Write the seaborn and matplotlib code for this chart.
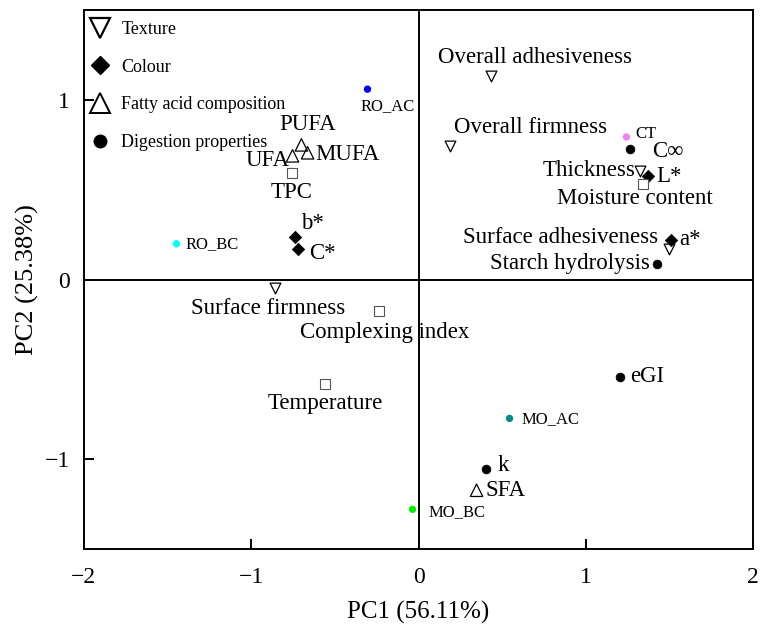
import matplotlib
matplotlib.use("Agg")
import matplotlib.pyplot as plt
from matplotlib.lines import Line2D
import seaborn as sns
import pandas as pd

sns.set_theme(style="white")
plt.rcParams['font.family'] = ['Liberation Serif', 'DejaVu Serif']
plt.rcParams['mathtext.fontset'] = 'stix'
plt.rcParams['text.color'] = 'black'

# ---------------- data ----------------
texture_names = ["Overall adhesiveness", "Overall firmness", "Thickness", "Surface adhesiveness", "Surface firmness"]
texture_pc1 = [0.436, 0.191, 1.327, 1.50, -0.855]
texture_pc2 = [1.133, 0.744, 0.606, 0.172, -0.044]

colour_names = ["b*", "C*", "L*", "a*"]
colour_pc1 = [-0.741, -0.723, 1.369, 1.512]
colour_pc2 = [0.239, 0.172, 0.578, 0.222]

fatty_names = ["PUFA", "MUFA", "UFA", "SFA"]
fatty_pc1 = [-0.70, -0.663, -0.753, 0.347]
fatty_pc2 = [0.75, 0.706, 0.689, -1.172]

digest_names = ["C∞", "Starch hydrolysis", "eGI", "k"]
digest_pc1 = [1.267, 1.423, 1.207, 0.406]
digest_pc2 = [0.728, 0.089, -0.544, -1.056]

other_names = ["TPC", "Moisture content", "Complexing index", "Temperature"]
other_pc1 = [-0.759, 1.339, -0.239, -0.556]
other_pc2 = [0.594, 0.533, -0.172, -0.578]

sample_names = ["RO_AC", "RO_BC", "CT", "MO_AC", "MO_BC"]
sample_pc1 = [-0.305, -1.447, 1.243, 0.544, -0.036]
sample_pc2 = [1.06, 0.20, 0.794, -0.772, -1.278]
sample_colors = ["#0000ff", "#00ffff", "#ee82ee", "#008b8b", "#00ee00"]

x_ticks = [-2, -1, 0, 1, 2]
y_ticks = [-1, 0, 1]
x_label = "PC1 (56.11%)"
y_label = "PC2 (25.38%)"
legend_labels = ["Texture", "Colour", "Fatty acid composition", "Digestion properties"]

# label placement (offset pixels, ha)
label_pos = {
    "Overall adhesiveness": (44, 19, "center"),
    "Overall firmness": (80, 18, "center"),
    "Thickness": (-5, 0, "right"),
    "Surface adhesiveness": (-11, 11, "right"),
    "Surface firmness": (-7, -21, "center"),
    "b*": (6, 13, "left"),
    "C*": (12, -5, "left"),
    "L*": (9, -1, "left"),
    "a*": (8, 0, "left"),
    "PUFA": (6, 20, "center"),
    "MUFA": (8, -2, "left"),
    "UFA": (-3, -5, "right"),
    "SFA": (9, 0, "left"),
    "C∞": (22, -3, "left"),
    "Starch hydrolysis": (-7, 0, "right"),
    "eGI": (10, 1, "left"),
    "k": (11, 4, "left"),
    "TPC": (0, -20, "center"),
    "Moisture content": (-8, -15, "center"),
    "Complexing index": (6, -22, "center"),
    "Temperature": (0, -20, "center"),
    "RO_AC": (-7, -17, "left"),
    "RO_BC": (9, 0, "left"),
    "CT": (9, 3, "left"),
    "MO_AC": (12, -1, "left"),
    "MO_BC": (16, -3, "left"),
}

fig = plt.figure(figsize=(7.63, 6.32), dpi=100)
ax = fig.add_axes([0.110, 0.131, 0.877, 0.853])

ax.axhline(0, color="black", lw=1.4, zorder=1)
ax.axvline(0, color="black", lw=1.4, zorder=1)

sns.scatterplot(x=texture_pc1, y=texture_pc2, marker="v", s=60, facecolor="white",
                edgecolor="black", linewidth=0.9, ax=ax, zorder=3)
sns.scatterplot(x=colour_pc1, y=colour_pc2, marker="D", s=40, color="black",
                edgecolor="black", ax=ax, zorder=3)
sns.scatterplot(x=fatty_pc1, y=fatty_pc2, marker="^", s=80, facecolor="none",
                edgecolor="black", linewidth=0.9, ax=ax, zorder=3)
sns.scatterplot(x=digest_pc1, y=digest_pc2, marker="o", s=40, color="black",
                edgecolor="black", ax=ax, zorder=3)
sns.scatterplot(x=other_pc1, y=other_pc2, marker="s", s=60, facecolor="white",
                edgecolor="#555555", linewidth=0.8, ax=ax, zorder=3)
sns.scatterplot(x=sample_pc1, y=sample_pc2, hue=sample_names,
                palette=dict(zip(sample_names, sample_colors)), marker="o", s=28,
                edgecolor="none", ax=ax, legend=False, zorder=3)

def put_labels(names, xs, ys, size):
    for n, x, y in zip(names, xs, ys):
        dx, dy, ha = label_pos[n]
        ax.annotate(n, (x, y), xytext=(dx, dy), textcoords="offset pixels",
                    ha=ha, va="center", fontsize=size, color="black", zorder=4)

big = 16.5
put_labels(texture_names, texture_pc1, texture_pc2, big)
put_labels(colour_names, colour_pc1, colour_pc2, big)
put_labels(fatty_names, fatty_pc1, fatty_pc2, big)
put_labels(digest_names, digest_pc1, digest_pc2, big)
put_labels(other_names, other_pc1, other_pc2, big)
put_labels(sample_names, sample_pc1, sample_pc2, 12)

ax.set_xlim(x_ticks[0], x_ticks[-1])
ax.set_ylim(-1.5, 1.5)
ax.set_xticks(x_ticks)
ax.set_yticks(y_ticks)
ax.set_xticklabels(["\u2212" + str(-t) if t < 0 else str(t) for t in x_ticks])
ax.set_yticklabels(["\u2212" + str(-t) if t < 0 else str(t) for t in y_ticks])
ax.tick_params(direction="in", length=7, width=1.4, labelsize=17, pad=10,
               bottom=True, left=True, colors="black")
ax.tick_params(axis="x", pad=13)
for sp in ax.spines.values():
    sp.set_color("black")
    sp.set_linewidth(1.4)
ax.set_xlabel(x_label, fontsize=18, labelpad=9, color="black")
ax.set_ylabel(y_label, fontsize=19, labelpad=4, color="black")

handles = [
    Line2D([], [], ls="none", marker="v", markersize=14, markerfacecolor="white",
           markeredgecolor="black", markeredgewidth=1.6),
    Line2D([], [], ls="none", marker="D", markersize=9, color="black"),
    Line2D([], [], ls="none", marker="^", markersize=15, markerfacecolor="white",
           markeredgecolor="black", markeredgewidth=1.4),
    Line2D([], [], ls="none", marker="o", markersize=9, color="black"),
]
ax.legend(handles, legend_labels, loc="upper left", bbox_to_anchor=(-0.002, 0.99),
          frameon=False, fontsize=13, labelspacing=1.15, handletextpad=0.55,
          borderaxespad=0.0, handlelength=1.3, borderpad=0.3, labelcolor="black")

fig.savefig("out.png", dpi=100)
